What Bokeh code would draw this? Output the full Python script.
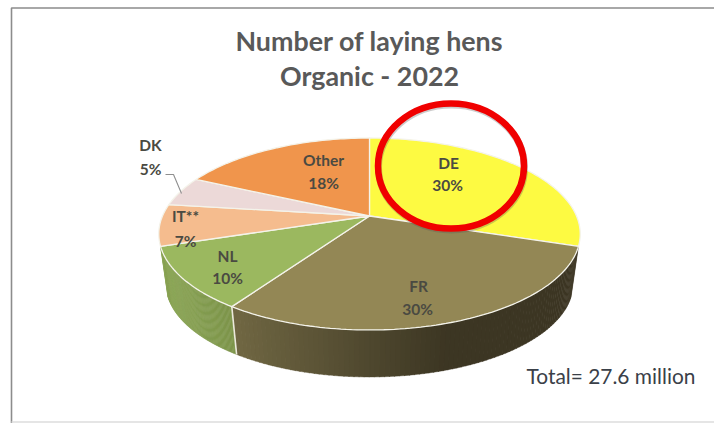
import math
from bokeh.plotting import figure
from bokeh.models import ColumnDataSource
from bokeh.core.properties import value
from bokeh.embed import file_html
from bokeh.resources import INLINE

# data
categories = ["DE", "FR", "NL", "IT**", "DK", "Other"]
shares = [30, 29.5, 10.5, 7, 5, 18]
pct_labels = ["30%", "30%", "10%", "7%", "5%", "18%"]
title_lines = ["Number of laying hens", "Organic - 2022"]
total_label = "Total= 27.6 million"

# styles / layout
top_colors = ["#fdfa42", "#938755", "#9bb85f", "#f5bc8e", "#ecd9d8", "#f0954c"]
name_pos = [(448, 162.5), (418, 285.5), (227, 255.5), (185, 215.5), (150, 144.5), (323, 159.5)]
pct_pos = [(447, 184.5), (417, 308.5), (227, 277.5), (185, 240.5), (150, 168.5), (323, 182.5)]
TEXT = "#4a4a42"
W, H = 714, 423

HX, HY = 369.0, 215.5
B, A, C = 207.0, 92.6, 0.1875
BOT_SCALE, BOT_HY = 0.965, 266.5


def proj(theta, scale=1.0, hy=HY):
    u, v = math.sin(theta), math.cos(theta)
    d = 1 + C * v
    return HX + scale * B * u / d, hy - scale * A * v / d


def mix(c1, c2, t):
    t = max(0.0, min(1.0, t))
    a = [int(c1[i:i + 2], 16) for i in (1, 3, 5)]
    b = [int(c2[i:i + 2], 16) for i in (1, 3, 5)]
    return "#%02x%02x%02x" % tuple(round(x + (y - x) * t) for x, y in zip(a, b))


p = figure(width=W, height=H, x_range=(0, W), y_range=(H, 0),
           output_backend="svg", toolbar_location=None, min_border=0,
           background_fill_color="white", border_fill_color="white")
p.axis.visible = False
p.grid.visible = False
p.outline_line_color = None

# outer frame
p.line([11, 11, W], [H, 7.5, 7.5], line_color="#8c8c8c", line_width=1.6)
p.line([11, W], [421.5, 421.5], line_color="#dcdcdc", line_width=1.5)

total = sum(shares)
edges = [0.0]
for s in shares:
    edges.append(edges[-1] + s / total * 2 * math.pi)

# side wall, as thin strips for the shading
xs, ys, cols = [], [], []
side_ramp = {1: ("#6f6642", "#3c3623", 235, 445), 2: ("#8aa455", "#7b9349", 165, 235)}
for idx, (c1, c2, x0, x1) in side_ramp.items():
    n = 90
    for k in range(n):
        t1 = edges[idx] + (edges[idx + 1] - edges[idx]) * k / n
        t2 = min(edges[idx] + (edges[idx + 1] - edges[idx]) * (k + 1.15) / n, edges[idx + 1])
        a1, a2 = proj(t1), proj(t2)
        b1, b2 = proj(t1, BOT_SCALE, BOT_HY), proj(t2, BOT_SCALE, BOT_HY)
        xs.append([a1[0], a2[0], b2[0], b1[0]])
        ys.append([a1[1], a2[1], b2[1], b1[1]])
        cols.append(mix(c1, c2, ((a1[0] + a2[0]) / 2 - x0) / (x1 - x0)))
p.patches(xs="x", ys="y", fill_color="c", line_color="c", line_width=0.4,
          source=ColumnDataSource(dict(x=xs, y=ys, c=cols)))

# separator on the wall between FR and NL
sa = proj(edges[2])
sb = proj(edges[2], BOT_SCALE, BOT_HY)
p.line([sa[0], sb[0]], [sa[1], sb[1]], line_color="#ece9dc", line_width=1.6)

# top face
for i, col in enumerate(top_colors):
    n = max(8, int(shares[i] * 3))
    pts = [proj(edges[i] + (edges[i + 1] - edges[i]) * k / n) for k in range(n + 1)]
    px = [HX] + [q[0] for q in pts]
    py = [HY] + [q[1] for q in pts]
    p.patch(px, py, fill_color=col, line_color="#f4f3ea", line_width=1.3)

# DK leader line
p.line([165, 173, 181], [174, 174, 193], line_color="#8f8f8f", line_width=1.1)

# slice labels
lab_x = [q[0] for q in name_pos] + [q[0] for q in pct_pos]
lab_y = [q[1] for q in name_pos] + [q[1] for q in pct_pos]
lab_t = categories + pct_labels
p.text(lab_x, lab_y, text=lab_t, text_align="center", text_baseline="middle",
       text_font=value("Lato"), text_font_style="bold", text_font_size="15.5px",
       text_color=TEXT)

# title and total
p.text([369, 369], [40, 75], text=title_lines, text_align="center", text_baseline="middle",
       text_font=value("Lato"), text_font_style="bold", text_font_size="26.8px",
       text_color="#595959")
p.text([526], [374.5], text=[total_label], text_align="left", text_baseline="middle",
       text_font=value("Lato"), text_font_size="20.9px", text_color="#3a4048")

# red highlight ring with soft shadow
p.ellipse([451], [167], width=146, height=125, fill_color=None,
          line_color="#555555", line_alpha=0.3, line_width=7)
p.ellipse([450.5], [165.5], width=146, height=125, fill_color=None,
          line_color="#f00000", line_width=6.5)

open("out.html", "w").write(file_html(p, INLINE))
